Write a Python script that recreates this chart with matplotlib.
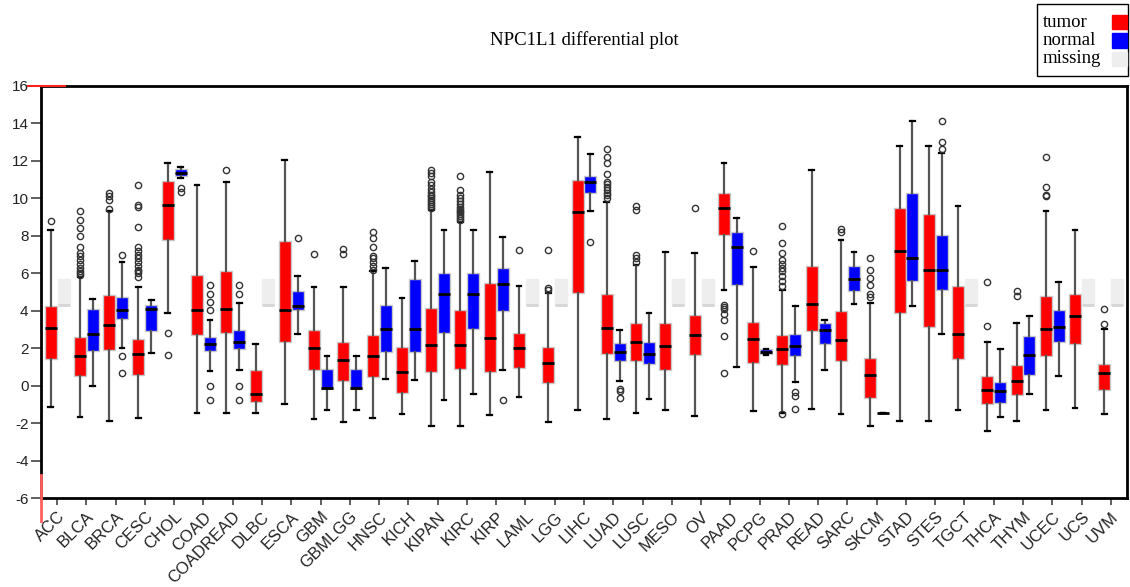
import matplotlib
matplotlib.use("Agg")
import matplotlib.pyplot as plt
from matplotlib.patches import Rectangle

cancers = ["ACC", "BLCA", "BRCA", "CESC", "CHOL", "COAD", "COADREAD", "DLBC", "ESCA",
           "GBM", "GBMLGG", "HNSC", "KICH", "KIPAN", "KIRC", "KIRP", "LAML", "LGG",
           "LIHC", "LUAD", "LUSC", "MESO", "OV", "PAAD", "PCPG", "PRAD", "READ", "SARC",
           "SKCM", "STAD", "STES", "TGCT", "THCA", "THYM", "UCEC", "UCS", "UVM"]

# tumor boxes
tumor_lo = [-1.12, -1.7, -1.91, -1.75, 3.9, -1.47, -1.47, -1.45, -0.97, -1.79, -1.96, -1.75,
            -1.5, -2.18, -2.18, -1.57, -0.61, -1.95, -1.31, -1.77, -1.48, -1.32, -1.63, 5.09,
            -1.36, -1.45, -1.23, -1.54, -2.16, -1.9, -1.9, -1.31, -2.43, -1.9, -1.32, -1.22, -1.49]
tumor_q1 = [1.42, 0.5, 1.89, 0.57, 7.76, 2.73, 2.82, -0.88, 2.32, 0.81, 0.24, 0.48,
            -0.38, 0.74, 0.9, 0.74, 0.93, 0.13, 4.93, 1.7, 1.29, 0.84, 1.63, 8.07,
            1.22, 1.11, 2.94, 1.31, -0.68, 3.88, 3.12, 1.43, -1.0, -0.51, 1.57, 2.2, -0.24]
tumor_med = [3.06, 1.57, 3.26, 1.7, 9.66, 4.04, 4.11, -0.45, 4.06, 2.0, 1.38, 1.57,
             0.75, 2.16, 2.16, 2.55, 2.03, 1.21, 9.27, 3.07, 2.32, 2.1, 2.71, 9.48,
             2.5, 1.93, 4.38, 2.45, 0.56, 7.2, 6.16, 2.76, -0.23, 0.24, 3.03, 3.74, 0.68]
tumor_q3 = [4.27, 2.58, 4.86, 2.51, 10.94, 5.89, 6.14, 0.82, 7.74, 2.99, 2.32, 2.69,
            2.09, 4.15, 4.04, 5.48, 2.83, 2.09, 10.97, 4.9, 3.33, 3.35, 3.78, 10.28,
            3.38, 2.71, 6.41, 3.97, 1.45, 9.48, 9.14, 5.34, 0.54, 1.09, 4.77, 4.9, 1.13]
tumor_hi = [8.32, 5.8, 9.3, 5.29, 11.91, 10.72, 10.85, 2.25, 12.06, 5.29, 5.29, 6.1,
            4.68, 9.39, 8.75, 11.43, 5.32, 4.95, 13.27, 9.83, 6.46, 7.11, 7.08, 11.91,
            6.35, 5.13, 11.52, 7.79, 4.42, 12.77, 12.77, 9.6, 2.32, 3.35, 9.3, 8.32, 3.0]
tumor_out = [
    [8.8],
    [5.9, 6.0, 6.1, 6.3, 6.5, 6.7, 6.9, 7.1, 7.4, 8.0, 8.4, 8.85, 9.35],
    [9.45, 9.9, 10.1, 10.28],
    [5.8, 6.0, 6.1, 6.2, 6.4, 6.6, 6.8, 7.0, 7.2, 7.4, 8.45, 9.55, 9.65, 10.74],
    [1.66, 2.82],
    [],
    [11.5],
    [],
    [],
    [7.03],
    [7.03, 7.31],
    [6.2, 6.4, 6.6, 6.8, 6.9, 7.4, 7.91, 8.22],
    [],
    [9.5, 9.6, 9.7, 9.8, 9.9, 10.0, 10.1, 10.2, 10.35, 10.5, 10.7, 10.9, 11.2, 11.35, 11.52],
    [8.85, 8.95, 9.05, 9.15, 9.25, 9.35, 9.45, 9.55, 9.7, 9.85, 10.0, 10.2, 10.45, 11.2],
    [],
    [7.22],
    [5.1, 5.2, 7.22],
    [],
    [10.0, 10.2, 10.3, 10.45, 10.6, 10.75, 10.9, 11.3, 11.9, 12.2, 12.66],
    [6.6, 6.8, 6.95, 9.36, 9.6],
    [],
    [9.51],
    [0.69, 2.64, 3.49, 3.85, 4.1, 4.2, 4.3],
    [7.19],
    [-1.54, 5.3, 5.57, 5.84, 6.1, 6.3, 6.5, 6.7, 7.08, 7.6, 8.54],
    [],
    [8.23, 8.38],
    [4.74, 4.9, 5.39, 5.74, 6.19, 6.82],
    [],
    [],
    [],
    [3.17, 5.55],
    [4.77, 5.04],
    [10.1, 10.19, 10.63, 12.2],
    [],
    [3.31, 4.1],
]

# normal boxes (None = missing)
normal_lo = [None, -0.03, 2.0, 1.75, 11.1, 0.8, 0.82, None, 2.78, -1.32, -1.32, 0.38,
             0.32, -0.75, -0.43, 0.81, None, None, 9.32, 0.27, -0.7, None, None, 0.97,
             1.66, 0.2, 0.86, 4.37, -1.45, 4.24, 2.76, None, -1.66, -0.47, 0.54, None, None]
normal_q1 = [None, 1.84, 3.56, 2.91, 11.17, 1.84, 1.93, None, 4.04, -0.18, -0.18, 1.82,
             1.82, 2.82, 3.0, 3.97, None, None, 10.31, 1.34, 1.13, None, None, 5.35,
             1.71, 1.57, 2.23, 5.04, -1.45, 5.57, 5.13, None, -0.95, 0.58, 2.34, None, None]
normal_med = [None, 2.76, 4.02, 4.1, 11.38, 2.23, 2.32, None, 4.27, -0.13, -0.13, 3.05,
              3.0, 4.91, 4.91, 5.45, None, None, 10.88, 1.82, 1.71, None, None, 7.38,
              1.8, 2.1, 2.96, 5.71, -1.45, 6.79, 6.16, None, -0.26, 1.63, 3.14, None, None]
normal_q3 = [None, 4.1, 4.72, 4.33, 11.58, 2.6, 2.96, None, 5.07, 0.9, 0.9, 4.29,
             5.69, 6.0, 6.02, 6.26, None, None, 11.2, 2.28, 2.32, None, None, 8.18,
             1.93, 2.78, 3.35, 6.37, -1.45, 10.28, 8.07, None, 0.22, 2.67, 4.02, None, None]
normal_hi = [None, 4.65, 6.6, 4.59, 11.68, 3.53, 4.42, None, 5.86, 1.57, 1.57, 6.3,
             6.64, 8.3, 8.3, 7.93, None, None, 12.38, 2.96, 3.9, None, None, 8.93,
             1.97, 4.24, 3.49, 7.11, -1.45, 14.15, 12.41, None, 1.98, 3.74, 5.52, None, None]
normal_out = [
    [], [], [0.65, 1.57, 6.99], [], [10.33, 10.55],
    [-0.74, 0.0, 4.06, 4.45, 4.91, 5.36], [-0.74, 0.0, 4.91, 5.36], [], [7.86],
    [], [], [], [], [], [], [-0.75], [], [], [7.67], [-0.65, -0.3, -0.17], [],
    [], [], [], [], [-1.27, -0.56, -0.35], [], [], [], [], [12.64, 13.03, 14.15],
    [], [], [], [], [], [],
]

missing_lo, missing_hi = 4.3, 5.7

TUMOR = "#ff0000"
NORMAL = "#0000ff"
MISSING = "#eeeeee"
legend_labels = ["tumor", "normal", "missing"]
legend_colors = [TUMOR, NORMAL, MISSING]

plt.rcParams["font.family"] = ["Liberation Sans", "DejaVu Sans"]
serif = ["Liberation Serif", "DejaVu Serif"]

fig = plt.figure(figsize=(11.3, 5.87), dpi=100)
ax = fig.add_axes([0.0363, 0.1516, 0.9610, 0.7019])

off = 0.22
w = 0.41


def draw(stats, pos, color, edge="#c8c8c8", med="black", whisk="#555555", caps=True):
    ax.bxp(stats, positions=pos, widths=w, patch_artist=True, showfliers=True,
           showcaps=caps, capwidths=0.16,
           boxprops=dict(facecolor=color, edgecolor=edge, linewidth=1),
           medianprops=dict(color=med, linewidth=2),
           whiskerprops=dict(color=whisk, linewidth=1.6),
           capprops=dict(color="black", linewidth=1.6),
           flierprops=dict(marker="o", markerfacecolor="none", markeredgecolor="#333333",
                           markersize=4.5, markeredgewidth=1))


t_stats, t_pos = [], []
for i in range(len(cancers)):
    t_stats.append(dict(whislo=tumor_lo[i], q1=tumor_q1[i], med=tumor_med[i],
                        q3=tumor_q3[i], whishi=tumor_hi[i], fliers=tumor_out[i]))
    t_pos.append(i - off)
draw(t_stats, t_pos, TUMOR)

n_stats, n_pos, m_stats, m_pos = [], [], [], []
for i in range(len(cancers)):
    if normal_med[i] is None:
        m_stats.append(dict(whislo=missing_lo, q1=missing_lo, med=missing_lo,
                            q3=missing_hi, whishi=missing_hi, fliers=[]))
        m_pos.append(i + off)
    else:
        n_stats.append(dict(whislo=normal_lo[i], q1=normal_q1[i], med=normal_med[i],
                            q3=normal_q3[i], whishi=normal_hi[i], fliers=normal_out[i]))
        n_pos.append(i + off)
draw(n_stats, n_pos, NORMAL)
draw(m_stats, m_pos, MISSING, edge=MISSING, med="#d6d6d6", whisk=MISSING, caps=False)

ax.set_xlim(-0.55, len(cancers) - 0.45)
ax.set_ylim(-6, 16)
ax.set_yticks(range(-6, 17, 2))
ax.set_yticklabels([str(v) for v in range(-6, 17, 2)], fontsize=11, color="#222222")
ax.set_xticks(range(len(cancers)))
ax.set_xticklabels(cancers, rotation=45, ha="right", rotation_mode="anchor",
                   fontsize=12, color="#222222")
ax.tick_params(axis="y", length=7, width=1.2, color="#444444", pad=2)
ax.tick_params(axis="x", length=5, width=1.2, color="#444444", pad=3)
for s in ax.spines.values():
    s.set_linewidth(2)
    s.set_color("black")

# red marks on the frame
ax.plot([-0.012, 0.022], [1, 1], color="#ff2020", lw=1.5, transform=ax.transAxes,
        clip_on=False, zorder=10)
ax.plot([0, 0], [0.055, -0.055], color="#ff6060", lw=2, transform=ax.transAxes,
        clip_on=False, zorder=10)

fig.text(0.517, 0.932, "NPC1L1 differential plot", ha="center", va="center",
         fontsize=13.5, family=serif)

# legend box, drawn by hand so the labels stay left-aligned
fig.patches.append(Rectangle((0.9175, 0.870), 0.0805, 0.124, transform=fig.transFigure,
                             facecolor="white", edgecolor="black", linewidth=1))
for k, (lab, col) in enumerate(zip(legend_labels, legend_colors)):
    yc = 0.9625 - k * 0.0315
    fig.text(0.9228, yc, lab, ha="left", va="center", fontsize=13.5, family=serif)
    fig.patches.append(Rectangle((0.9845, yc - 0.0125), 0.0128, 0.025,
                                 transform=fig.transFigure, facecolor=col, edgecolor=col))

fig.savefig("out.png", dpi=100)
